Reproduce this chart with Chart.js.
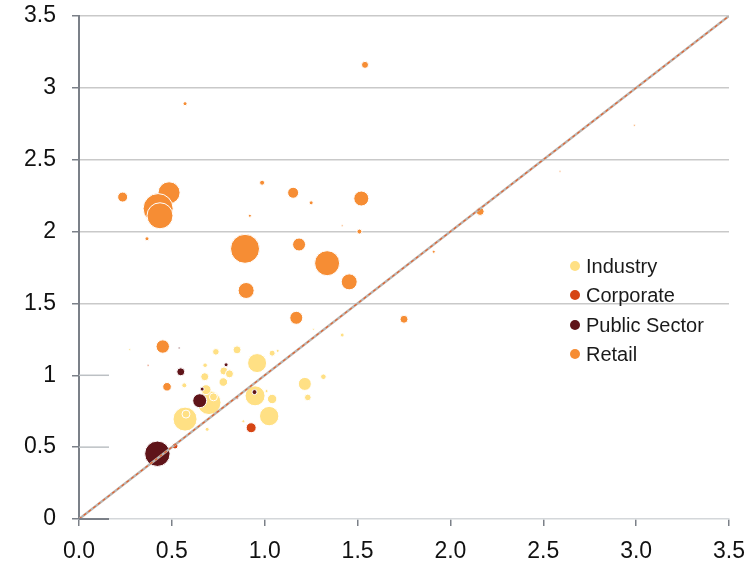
<!DOCTYPE html>
<html>
<head>
<meta charset="utf-8">
<script src="https://cdn.jsdelivr.net/npm/chart.js@4.4.1/dist/chart.umd.min.js"></script>
<style>
  body { margin: 0; background: #fff; }
  #wrap { position: relative; width: 753px; height: 562px; }
  #legend { position: absolute; left: 570px; top: 252px; font-family: "Liberation Sans", Arial, sans-serif; font-size: 20px; color: #1a1a1a; }
  #legend .row { height: 29.4px; line-height: 29.4px; white-space: nowrap; }
  #legend .dot { display: inline-block; width: 10px; height: 10px; border-radius: 50%; margin-right: 6px; vertical-align: 2px; }
</style>
</head>
<body>
<div id="wrap">
  <canvas id="myChart" width="753" height="562"></canvas>
  <div id="legend"></div>
</div>
<script>
// series names and colours
const seriesNames = ['Industry', 'Corporate', 'Public Sector', 'Retail'];
const seriesColors = ['#FFE084', '#D64514', '#5F1419', '#F68D34'];

// tick labels
const xTickLabels = ['0.0', '0.5', '1.0', '1.5', '2.0', '2.5', '3.0', '3.5'];
const yTickLabels = ['0', '0.5', '1', '1.5', '2', '2.5', '3', '3.5'];

// Industry: x, y, bubble radius
const industryX = [0.737, 0.851, 0.959, 1.04, 1.07, 0.679, 0.78, 0.81, 0.677, 0.777, 0.567, 1.216, 1.316, 1.232, 1.04, 1.01, 0.948, 0.70, 0.684, 0.724, 0.571, 0.576, 1.024, 0.885, 0.69, 0.273, 1.417, 1.262];
const industryY = [1.163, 1.177, 1.085, 1.154, 1.17, 1.07, 1.03, 1.01, 0.99, 0.953, 0.93, 0.94, 0.99, 0.846, 0.835, 0.89, 0.857, 0.81, 0.90, 0.85, 0.695, 0.73, 0.716, 0.68, 0.624, 1.18, 1.28, 1.32];
const industryR = [3.3, 4, 9.5, 3, 1.5, 2.3, 4, 4, 4, 4.3, 2.5, 6.5, 2.8, 3.3, 4.7, 1.5, 10, 12, 5, 4, 12, 4, 9.7, 1.5, 2, 1, 2, 1];

// Corporate
const corporateX = [0.927, 0.517, 0.851, 0.372];
const corporateY = [0.635, 0.508, 0.844, 1.07];
const corporateR = [5, 3, 1.5, 1];

// Public Sector
const publicX = [0.422, 0.65, 0.548, 0.945, 0.663, 0.792, 0.539];
const publicY = [0.454, 0.823, 1.024, 0.883, 0.904, 1.073, 1.19];
const publicR = [12.7, 7, 4, 2.5, 2, 2, 1];

// Retail
const retailX = [0.235, 0.485, 0.426, 0.436, 0.366, 0.986, 1.153, 1.25, 1.52, 0.92, 1.417, 1.51, 0.894, 1.185, 1.336, 1.455, 0.90, 1.17, 1.54, 0.571, 2.16, 1.75, 1.91, 2.59, 2.99, 0.451, 0.474];
const retailY = [2.24, 2.27, 2.16, 2.11, 1.95, 2.34, 2.27, 2.20, 2.23, 2.11, 2.04, 2.00, 1.88, 1.91, 1.78, 1.65, 1.59, 1.40, 3.16, 2.89, 2.14, 1.39, 1.86, 2.42, 2.74, 1.20, 0.92];
const retailR = [5, 11, 15, 13, 2, 2.5, 5.5, 2, 7.5, 1.5, 1, 2.5, 14.5, 6.5, 12.5, 8, 8, 6.5, 3.5, 2, 4, 4, 1.5, 1, 1, 6.7, 4.3];

// 45 degree reference line
const diagX = [0, 3.5];
const diagY = [0, 3.5];

// short grid stubs at the bottom of the y axis
const stubTicks = [0, 0.5, 1];

function toPoints(xs, ys, rs) {
    return xs.map((x, i) => ({ x: x, y: ys[i], r: rs ? rs[i] : 0 }));
}

const stubPlugin = {
    id: 'stubs',
    afterDraw(chart) {
        const c = chart.ctx;
        const area = chart.chartArea;
        const ys = chart.scales.y;
        c.save();
        stubTicks.forEach(v => {
            const py = ys.getPixelForValue(v);
            c.beginPath();
            c.strokeStyle = v === 0 ? '#7b8088' : '#bcc0c4';
            c.lineWidth = v === 0 ? 2 : 1.5;
            c.moveTo(area.left, py);
            c.lineTo(area.left + 30, py);
            c.stroke();
        });
        c.restore();
    }
};

document.addEventListener('DOMContentLoaded', function() {
    const ctx = document.getElementById('myChart').getContext('2d');
    const allX = [industryX, corporateX, publicX, retailX];
    const allY = [industryY, corporateY, publicY, retailY];
    const allR = [industryR, corporateR, publicR, retailR];
    const orders = [4, 3, 2, 1];

    const datasets = seriesNames.map((name, i) => ({
        type: 'bubble',
        label: name,
        data: toPoints(allX[i], allY[i], allR[i]),
        backgroundColor: seriesColors[i],
        borderColor: '#ffffff',
        borderWidth: 1,
        order: orders[i]
    }));
    datasets.push({
        type: 'line',
        label: 'diag',
        data: toPoints(diagX, diagY),
        borderColor: '#bab5b1',
        borderWidth: 2.5,
        pointRadius: 0,
        order: 0
    });
    datasets.push({
        type: 'line',
        label: 'diag2',
        data: toPoints(diagX, diagY),
        borderColor: '#e5602a',
        borderWidth: 1.2,
        borderDash: [3, 3],
        pointRadius: 0,
        order: -1
    });

    const tickFont = { family: '"Liberation Sans", Arial, sans-serif', size: 23 };

    new Chart(ctx, {
        type: 'bubble',
        data: { datasets: datasets },
        options: {
            responsive: false,
            animation: false,
            layout: { padding: { top: 16, right: 24, left: 0, bottom: 0 } },
            plugins: {
                legend: { display: false },
                tooltip: { enabled: false }
            },
            scales: {
                x: {
                    type: 'linear',
                    min: 0,
                    max: 3.5,
                    afterFit: s => { s.height = 43; s.paddingLeft = 0; s.paddingRight = 0; },
                    afterBuildTicks: s => { s.ticks = xTickLabels.map(t => ({ value: parseFloat(t) })); },
                    ticks: {
                        color: '#111',
                        padding: 12,
                        maxRotation: 0,
                        font: tickFont,
                        callback: (v, i) => xTickLabels[i]
                    },
                    grid: { drawOnChartArea: false, drawTicks: true, tickLength: 7, tickColor: '#7b8088', lineWidth: 1.5 },
                    border: { color: '#d4d7da', width: 1.5 }
                },
                y: {
                    type: 'linear',
                    min: 0,
                    max: 3.5,
                    afterFit: s => { s.width = 79; s.paddingTop = 0; s.paddingBottom = 0; },
                    afterBuildTicks: s => { s.ticks = yTickLabels.map(t => ({ value: parseFloat(t) })); },
                    ticks: {
                        color: '#111',
                        padding: 16,
                        font: tickFont,
                        callback: (v, i) => yTickLabels[i]
                    },
                    grid: {
                        color: c => (c.tick && c.tick.value >= 1.5 ? '#c9c9c9' : 'rgba(0,0,0,0)'),
                        lineWidth: 1.5,
                        tickLength: 7,
                        tickColor: '#7b8088'
                    },
                    border: { color: '#7b8088', width: 2 }
                }
            }
        },
        plugins: [stubPlugin]
    });

    // legend built from the series arrays
    const legend = document.getElementById('legend');
    seriesNames.forEach((name, i) => {
        const row = document.createElement('div');
        row.className = 'row';
        const dot = document.createElement('span');
        dot.className = 'dot';
        dot.style.background = seriesColors[i];
        row.appendChild(dot);
        row.appendChild(document.createTextNode(name));
        legend.appendChild(row);
    });
});
</script>
</body>
</html>
